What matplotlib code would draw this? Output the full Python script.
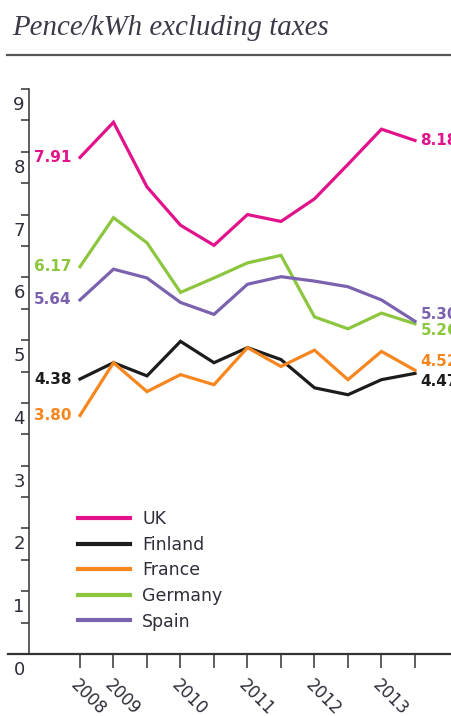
import numpy as np
import matplotlib
matplotlib.use("Agg")
from matplotlib import pyplot as plt
from matplotlib.lines import Line2D
import matplotlib.transforms as mtransforms

# half-year steps, 2008 .. 2013
periods = np.arange(11)
year_labels = ["2008", "2009", "", "2010", "", "2011", "", "2012", "", "2013", ""]

countries = ["UK", "Finland", "France", "Germany", "Spain"]
uk = [7.91, 8.47, 7.44, 6.83, 6.51, 7.00, 6.89, 7.25, 7.80, 8.36, 8.18]
finland = [4.38, 4.64, 4.43, 4.98, 4.64, 4.88, 4.69, 4.24, 4.13, 4.37, 4.47]
france = [3.80, 4.64, 4.18, 4.45, 4.29, 4.88, 4.58, 4.84, 4.37, 4.82, 4.52]
germany = [6.17, 6.95, 6.55, 5.76, 5.99, 6.23, 6.35, 5.37, 5.18, 5.43, 5.26]
spain = [5.64, 6.13, 5.99, 5.60, 5.41, 5.89, 6.01, 5.94, 5.85, 5.64, 5.30]

series = [uk, finland, france, germany, spain]
colors = ["#e2128b", "#1c1c1c", "#f7861f", "#8cc63e", "#7b62ae"]
# label nudges (points) so the end labels don't overlap
end_nudge = [0, -6, 6, -5, 5]

W, H = 451, 716
fig = plt.figure(figsize=(W / 100, H / 100), dpi=100)
plt.rcParams["font.family"] = ["DejaVu Sans"]
txt = "#2e2e3a"

# title + rule
fig.text(12 / W, 1 - 35 / H, "Pence/kWh excluding taxes", family="Liberation Serif",
         style="italic", fontsize=20.8, color="#3a3a48", va="baseline", ha="left")
fig.add_artist(Line2D([7 / W, 1], [1 - 55 / H, 1 - 55 / H], color="#555555", lw=1.6))

ax = fig.add_axes([8 / W, 62 / H, 443 / W, 565 / H])
ax.set_xlim(-2.149, 11.075)
ax.set_ylim(0, 9)

for vals, c in zip(series, colors):
    ax.plot(periods, vals, color=c, lw=2.3, solid_joinstyle="miter")

# value labels at start and end (right ones run off the edge, as in the original)
for vals, c, nd in zip(series, colors, end_nudge):
    ax.annotate(f"{vals[0]:.2f}", (periods[0], vals[0]), xytext=(-6, 0),
                textcoords="offset points", ha="right", va="center",
                color=c, fontsize=11, fontweight="bold")
    ax.annotate(f"{vals[-1]:.2f}", (periods[-1], vals[-1]), xytext=(4, nd),
                textcoords="offset points", ha="left", va="center",
                color=c, fontsize=11, fontweight="bold", annotation_clip=False)

# axes styling
for s in ["top", "right"]:
    ax.spines[s].set_visible(False)
ax.spines["left"].set_position(("data", -1.522))
ax.spines["left"].set_linewidth(1.1)
ax.spines["left"].set_color("#333333")
ax.spines["bottom"].set_linewidth(1.6)
ax.spines["bottom"].set_color("#333333")

ax.set_yticks(np.arange(0, 10))
ax.set_yticks(np.arange(0.5, 9, 1), minor=True)
ax.tick_params(axis="y", which="both", direction="out", length=6, width=1.1,
               color="#333333", labelsize=13, labelcolor=txt, pad=-3)
offset = mtransforms.ScaledTranslation(0, -14 / 100, fig.dpi_scale_trans)
for lab in ax.get_yticklabels():
    lab.set_transform(lab.get_transform() + offset)

ax.set_xticks(periods)
ax.set_xticklabels(year_labels)
ax.tick_params(axis="x", direction="out", length=10, width=1.1, color="#333333",
               labelsize=12, labelcolor=txt, pad=6)
for lab in ax.get_xticklabels():
    lab.set_rotation(-45)
    lab.set_ha("left")
    lab.set_va("top")
    lab.set_rotation_mode("anchor")

handles = [Line2D([], [], color=c, lw=3) for c in colors]
leg = ax.legend(handles, countries, loc="upper left", bbox_to_anchor=(78 / W, 1 - 510 / H),
                bbox_transform=fig.transFigure, frameon=False, fontsize=12.5,
                handlelength=3.0, handletextpad=0.7, labelspacing=0.44, borderpad=0,
                borderaxespad=0)
for t in leg.get_texts():
    t.set_color(txt)

fig.savefig("out.png", dpi=100)
